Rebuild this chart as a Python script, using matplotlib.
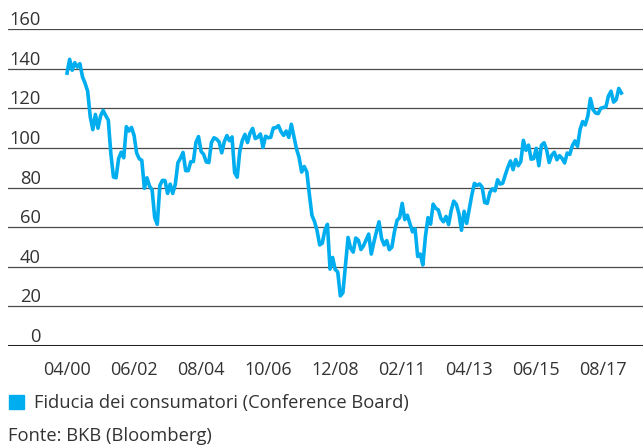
import matplotlib
matplotlib.use("Agg")
import matplotlib.pyplot as plt
import matplotlib.transforms as mtransforms
from matplotlib.patches import Rectangle
import numpy as np

plt.rcParams['font.family'] = ['Open Sans', 'DejaVu Sans']

# Monthly values, Apr 2000 - Mar 2018
values = [
    137.7, 144.7, 139.2, 143.0, 140.8, 142.5, 135.8, 132.6, 128.6,                    # 2000
    115.7, 109.2, 116.9, 109.9, 116.1, 118.9, 116.3, 114.0, 97.0, 85.3, 84.9, 94.6,   # 2001
    97.8, 95.0, 110.7, 108.5, 110.3, 106.3, 97.4, 94.5, 93.7, 79.6, 84.9, 80.7,       # 2002
    78.8, 64.8, 61.4, 81.0, 83.6, 83.5, 77.0, 81.7, 77.0, 81.7, 92.5, 94.8,           # 2003
    97.7, 88.5, 88.5, 93.0, 93.1, 102.8, 105.7, 98.2, 96.7, 92.9, 92.6, 102.7,        # 2004
    105.1, 104.4, 103.0, 97.5, 103.1, 106.2, 103.6, 105.5, 87.5, 85.2, 98.3, 103.8,   # 2005
    106.8, 102.7, 107.5, 109.8, 104.7, 105.4, 107.0, 100.2, 105.9, 105.1, 105.3, 110.0,  # 2006
    110.2, 111.2, 108.2, 106.3, 108.5, 105.3, 111.9, 105.6, 99.5, 95.2, 87.8, 90.6,   # 2007
    87.9, 76.4, 65.9, 62.8, 58.1, 51.0, 51.9, 58.5, 61.4, 38.8, 44.7, 38.6,           # 2008
    37.4, 25.3, 26.9, 40.8, 54.8, 49.3, 47.4, 54.5, 53.4, 48.7, 50.6, 53.6,           # 2009
    56.5, 46.4, 52.3, 57.7, 62.7, 54.3, 51.0, 53.2, 48.6, 49.9, 57.8, 63.4,           # 2010
    64.8, 72.0, 63.8, 66.0, 61.7, 57.6, 59.2, 45.2, 46.4, 40.9, 55.2, 64.8,           # 2011
    61.5, 71.6, 69.5, 68.7, 64.4, 62.7, 65.4, 61.3, 68.4, 73.1, 71.5, 66.7,           # 2012
    58.4, 68.0, 61.9, 69.0, 76.2, 82.1, 81.0, 81.8, 80.2, 72.4, 72.0, 77.5,           # 2013
    79.4, 78.3, 83.9, 81.7, 82.2, 86.4, 90.3, 93.4, 89.0, 94.1, 91.0, 93.1,           # 2014
    103.8, 98.8, 101.4, 94.3, 94.6, 99.8, 91.0, 101.3, 102.6, 99.1, 92.6, 96.3,       # 2015
    97.8, 94.0, 96.1, 94.7, 92.4, 97.4, 96.7, 101.1, 103.5, 100.8, 109.4, 113.3,      # 2016
    111.6, 116.1, 124.9, 119.4, 117.6, 117.3, 120.0, 120.4, 120.6, 126.2, 128.6, 123.1,  # 2017
    124.3, 130.0, 127.7,                                                                # 2018
]
tick_labels = ["04/00", "06/02", "08/04", "10/06", "12/08", "02/11", "04/13", "06/15", "08/17"]
tick_months = [0, 26, 52, 78, 104, 130, 156, 182, 208]
y_ticks = [0, 20, 40, 60, 80, 100, 120, 140, 160]
series_label = "Fiducia dei consumatori (Conference Board)"
source_text = "Fonte: BKB (Bloomberg)"

LINE_COLOR = "#00AEEF"
TEXT_COLOR = "#333333"
W, H = 643, 446

fig = plt.figure(figsize=(W / 100, H / 100), dpi=100)
ax = fig.add_axes([8 / W, 100 / H, 635 / W, 317 / H])

months = np.arange(len(values))
ax.plot(months, values, color=LINE_COLOR, lw=2.6, solid_joinstyle='round', zorder=3)

ax.set_xlim(-22.9, 223.4)
ax.set_ylim(0, 160)
for s in ax.spines.values():
    s.set_visible(False)
ax.set_yticks([])

for v in y_ticks:
    if v == 0:
        ax.axhline(v, color="#222222", lw=2.2, zorder=2)
    else:
        ax.axhline(v, color="#4a4a4a", lw=0.9, zorder=1)

trans = mtransforms.blended_transform_factory(ax.transAxes, ax.transData)
for v in y_ticks:
    ax.annotate(str(v), xy=(33 / 635, v), xycoords=trans, xytext=(0, 4),
                textcoords='offset pixels', ha='right', va='baseline',
                fontsize=13.2, color=TEXT_COLOR)

ax.set_xticks(tick_months)
ax.set_xticklabels(tick_labels, fontsize=13, color=TEXT_COLOR)
ax.tick_params(axis='x', length=0, pad=11)

fig.patches.append(Rectangle((9 / W, (H - 409) / H), 15 / W, 14 / H,
                             transform=fig.transFigure, color=LINE_COLOR))
fig.text(34 / W, (H - 403) / H, series_label, ha='left', va='center',
         fontsize=13.2, color=TEXT_COLOR)
fig.text(8 / W, (H - 436) / H, source_text, ha='left', va='center',
         fontsize=13.2, color=TEXT_COLOR)

fig.savefig("out.png", dpi=100)
